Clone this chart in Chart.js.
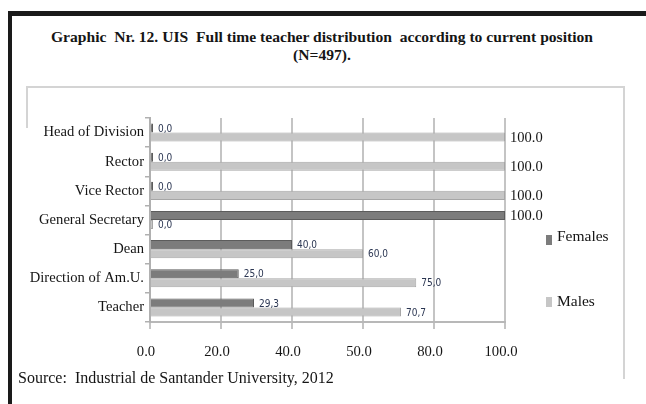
<!DOCTYPE html>
<html lang="en">
<head>
<meta charset="UTF-8">
<title>UIS full time teacher distribution</title>
<script src="https://cdn.jsdelivr.net/npm/chart.js@4.4.1/dist/chart.umd.min.js"></script>
<style>
    body {
        margin: 0;
        background: #fff;
        font-family: "Liberation Serif", "Times New Roman", serif;
        color: #151515;
    }
    #page { position: relative; width: 646px; height: 404px; overflow: hidden; }
    #frame {
        position: absolute; left: 8px; top: 11px; width: 660px; height: 420px;
        border-left: 4px solid #1a1a1a; border-top: 5px solid #1a1a1a;
    }
    #title {
        position: absolute; left: 0; top: 28px; width: 644px;
        text-align: center; font-weight: bold; font-size: 15.6px; line-height: 18px;
        white-space: pre;
    }
    #box {
        position: absolute; left: 26px; top: 86px; width: 597px; height: 291px;
        border-top: 2px solid #d4d4d4; border-right: 2px solid #d4d4d4;
    }
    #boxLeft { position: absolute; left: 26px; top: 86px; width: 2px; height: 42px; background: #d4d4d4; }
    #source { position: absolute; left: 18px; top: 370px; font-size: 16px; line-height: 16px; white-space: pre; }
    .legend-item { position: absolute; left: 546px; font-size: 15.5px; line-height: 16px; }
    .legend-item i { position: absolute; left: 0; width: 6px; height: 10px; }
    .legend-item span { position: absolute; left: 11px; white-space: pre; }
    canvas { position: absolute; left: 0; top: 0; }
</style>
</head>
<body>
<div id="page">
    <div id="frame"></div>
    <div id="title">Graphic  Nr. 12. UIS  Full time teacher distribution  according to current position
(N=497).</div>
    <div id="box"></div>
    <div id="boxLeft"></div>
    <canvas id="myChart" width="646" height="404"></canvas>
    <div id="legend"></div>
    <div id="source">Source:  Industrial de Santander University, 2012</div>
</div>
<script>
    // data
    const categories = ['Head of Division', 'Rector', 'Vice Rector', 'General Secretary', 'Dean', 'Direction of Am.U.', 'Teacher'];
    const females = [0, 0, 0, 100, 40, 25, 29.3];
    const males = [100, 100, 100, 0, 60, 75, 70.7];
    const tickLabels = ['0.0', '20.0', '40.0', '50.0', '80.0', '100.0'];
    const seriesNames = ['Females', 'Males'];

    const fills = ['#7c7c7c', '#c6c6c6'];
    const edges = ['#5c5c5c', '#a6a6a6'];

    // legend, built from the series
    const legendTops = [228, 293];
    const markTops = [235, 297];
    document.getElementById('legend').innerHTML = seriesNames.map((n, i) =>
        `<div class="legend-item" style="top:${legendTops[i]}px">` +
        `<i style="top:${markTops[i] - legendTops[i]}px;background:${fills[i]}"></i><span>${n}</span></div>`
    ).join('');

    // value labels next to each bar end
    const valueLabels = {
        id: 'valueLabels',
        afterDatasetsDraw(chart) {
            const ctx = chart.ctx;
            ctx.save();
            ctx.textBaseline = 'middle';
            chart.data.datasets.forEach((ds, i) => {
                chart.getDatasetMeta(i).data.forEach((bar, j) => {
                    const v = ds.data[j];
                    if (v === 100) {
                        ctx.font = '14.5px "Liberation Serif", serif';
                        ctx.fillStyle = '#151515';
                        ctx.fillText(v.toFixed(1), bar.x + 5, bar.y + 1);
                    } else {
                        ctx.font = '10px "Liberation Sans Narrow", "DejaVu Sans Condensed", sans-serif';
                        ctx.fillStyle = '#2b3652';
                        ctx.fillText(v.toFixed(1).replace('.', ','), bar.x + 5, bar.y + 1);
                    }
                });
            });
            ctx.restore();
        }
    };

    Chart.defaults.font.family = '"Liberation Serif", "Times New Roman", serif';
    Chart.defaults.color = '#151515';

    const ctx = document.getElementById('myChart');
    const chart = new Chart(ctx, {
        type: 'bar',
        data: {
            labels: categories,
            datasets: [females, males].map((d, i) => ({
                label: seriesNames[i],
                data: d,
                backgroundColor: fills[i],
                borderColor: edges[i],
                borderWidth: 1,
                minBarLength: 3,
                categoryPercentage: 0.62,
                barPercentage: 1.0
            }))
        },
        options: {
            indexAxis: 'y',
            responsive: false,
            animation: false,
            layout: { padding: { left: 0, right: 141, top: 118, bottom: 0 } },
            scales: {
                x: {
                    min: 0,
                    max: 100,
                    afterFit: s => { s.height = 82; },
                    ticks: {
                        stepSize: 20,
                        padding: 14,
                        labelOffset: -4,
                        font: { size: 14.7 },
                        callback: (value, index) => tickLabels[index]
                    },
                    grid: { color: '#c4c4c4', lineWidth: 2, tickLength: 7 },
                    border: { color: '#b8b8b8', width: 2 }
                },
                y: {
                    afterFit: s => { s.width = 150; },
                    ticks: { padding: 1, font: { size: 14.6 } },
                    grid: { drawOnChartArea: false, tickLength: 5, color: '#b0b0b0', lineWidth: 1.5 },
                    border: { color: '#b0b0b0', width: 2 }
                }
            },
            plugins: {
                legend: { display: false },
                tooltip: { enabled: false }
            }
        },
        plugins: [valueLabels]
    });
</script>
</body>
</html>
